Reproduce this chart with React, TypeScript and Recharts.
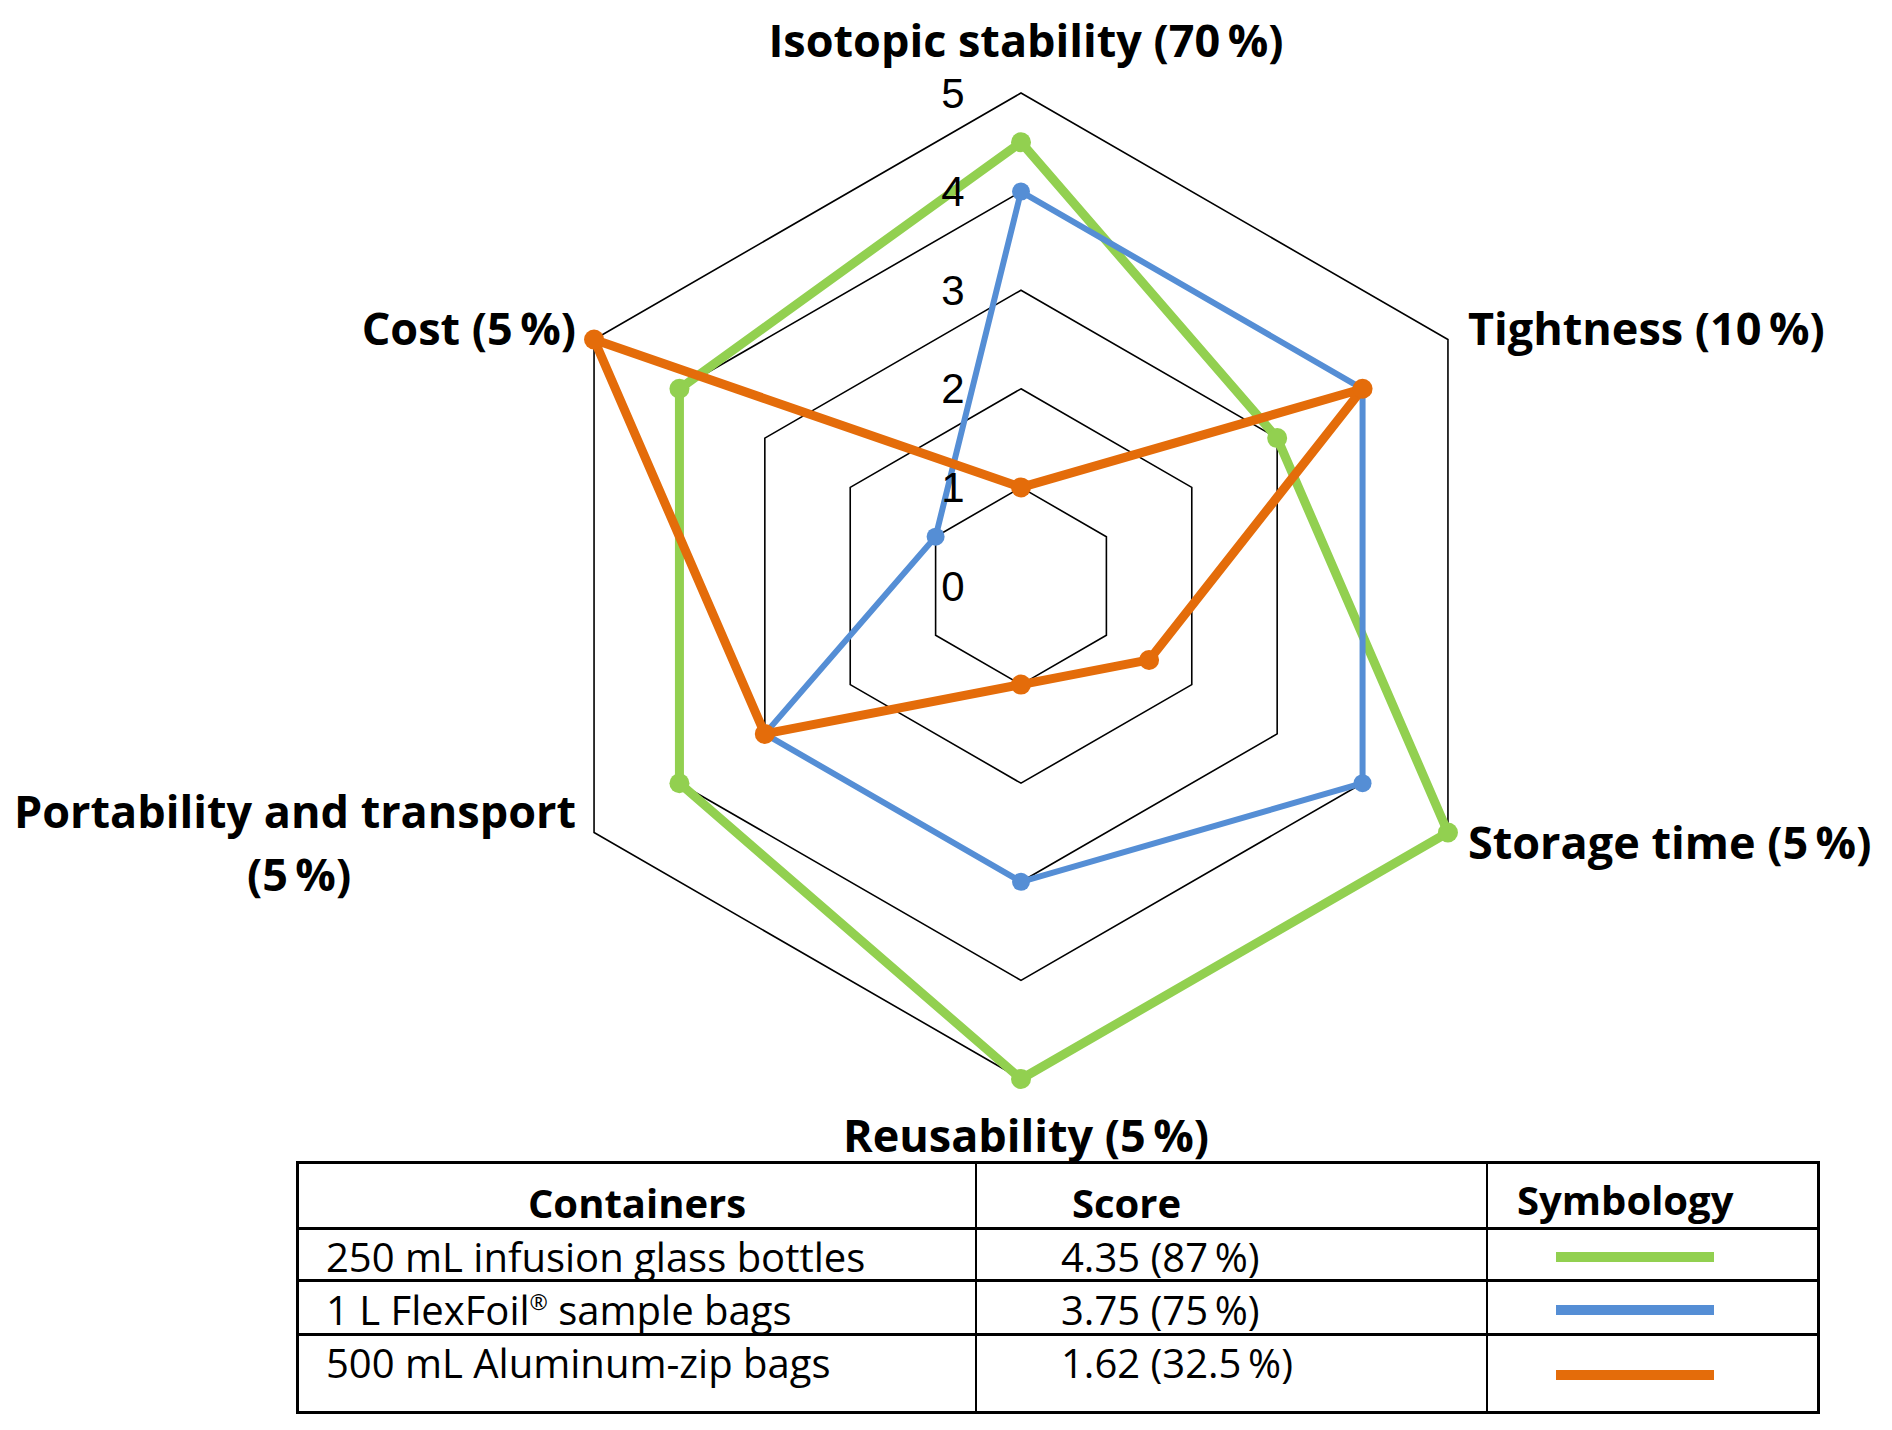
import React from 'react'
import { RadarChart, Radar, PolarGrid, PolarAngleAxis, PolarRadiusAxis } from 'recharts'

const categories = [
  'Isotopic stability (70\u2009%)',
  'Tightness (10\u2009%)',
  'Storage time (5\u2009%)',
  'Reusability (5\u2009%)',
  'Portability and transport\n(5\u2009%)',
  'Cost (5\u2009%)',
]
const glassBottles = [4.5, 3, 5, 5, 4, 4]
const flexFoilBags = [4, 4, 4, 3, 3, 1]
const aluminumZipBags = [1, 4, 1.5, 1, 3, 5]

const containers = ['250 mL infusion glass bottles', '1 L FlexFoil® sample bags', '500 mL Aluminum-zip bags']
const scores = ['4.35 (87\u2009%)', '3.75 (75\u2009%)', '1.62 (32.5\u2009%)']
const seriesKeys = ['glass', 'flexfoil', 'aluminum']
const seriesColors = ['#92D050', '#558ED5', '#E46C0A']

const data = categories.map((category, i) => ({
  category,
  glass: glassBottles[i],
  flexfoil: flexFoilBags[i],
  aluminum: aluminumZipBags[i],
}))

const CX = 1021
const CY = 586
const R = 493
const labelFont = '"Open Sans", sans-serif'

// label placement relative to each hexagon vertex
const labelPlace = [
  { dx: 5, dy: -54, anchor: 'middle' },
  { dx: 20, dy: -12, anchor: 'start' },
  { dx: 20, dy: 9, anchor: 'start' },
  { dx: 5, dy: 55, anchor: 'middle' },
  { dx: -18, dy: -22, anchor: 'end' },
  { dx: -18, dy: -12, anchor: 'end' },
]

function AngleTick(props: any) {
  const { payload } = props
  const i = categories.indexOf(payload.value)
  const a = (payload.coordinate * Math.PI) / 180
  const vx = CX + R * Math.cos(a)
  const vy = CY - R * Math.sin(a)
  const p = labelPlace[i] || { dx: 0, dy: 0, anchor: 'middle' }
  const lines = String(payload.value).split('\n')
  return (
    <g>
      {lines.map((line, k) => (
        <text
          key={k}
          x={k === 0 ? vx + p.dx : vx - 295}
          y={vy + p.dy + k * 63}
          textAnchor={k === 0 ? p.anchor : 'middle'}
          dominantBaseline="central"
          fontFamily={labelFont}
          fontWeight={700}
          fontSize={45}
          fill="#000"
        >
          {line}
        </text>
      ))}
    </g>
  )
}

function RadiusTick(props: any) {
  return (
    <text
      x={props.x - 68}
      y={props.y}
      textAnchor="middle"
      dominantBaseline="central"
      fontFamily='"Liberation Sans", Arial, sans-serif'
      fontSize={42}
      fill="#000"
    >
      {props.payload.value}
    </text>
  )
}

const colWidths = [678, 511, 335]
const rowHeights = [66, 52, 54, 75]
const rowTextCenter = [39, 27, 28, 27]
const swatchCenter = [36, 27, 28, 39]

function Cell({ w, h, children, right, bottom }: any) {
  return (
    <div
      style={{
        position: 'relative',
        width: w,
        height: h,
        boxSizing: 'border-box',
        borderRight: right ? '2px solid #000' : 'none',
        borderBottom: bottom ? '3px solid #000' : 'none',
      }}
    >
      {children}
    </div>
  )
}

function withSup(s: string) {
  const parts = s.split('®')
  if (parts.length === 1) return s
  return (
    <>
      {parts[0]}
      <sup style={{ fontSize: '0.55em', verticalAlign: '0.7em', lineHeight: 0 }}>®</sup>
      {parts[1]}
    </>
  )
}

function LegendTable() {
  const textStyle = (top: number, extra: any) => ({
    position: 'absolute' as const,
    top,
    transform: 'translateY(-50%)',
    fontFamily: labelFont,
    fontSize: 40,
    whiteSpace: 'nowrap' as const,
    lineHeight: 1,
    ...extra,
  })
  return (
    <div
      style={{
        position: 'absolute',
        left: 296,
        top: 1161,
        width: 1524,
        border: '3px solid #000',
        boxSizing: 'border-box',
        background: '#fff',
      }}
    >
      <div style={{ display: 'flex' }}>
        <Cell w={colWidths[0]} h={rowHeights[0]} right bottom>
          <div style={textStyle(rowTextCenter[0], { left: 0, width: '100%', textAlign: 'center', fontWeight: 700 })}>Containers</div>
        </Cell>
        <Cell w={colWidths[1]} h={rowHeights[0]} right bottom>
          <div style={textStyle(rowTextCenter[0], { left: 95, fontWeight: 700 })}>Score</div>
        </Cell>
        <Cell w={colWidths[2] - 6} h={rowHeights[0]} bottom>
          <div style={textStyle(rowTextCenter[0] - 3, { left: 29, fontWeight: 700 })}>Symbology</div>
        </Cell>
      </div>
      {containers.map((c, i) => (
        <div key={c} style={{ display: 'flex' }}>
          <Cell w={colWidths[0]} h={rowHeights[i + 1]} right bottom={i < containers.length - 1}>
            <div style={textStyle(rowTextCenter[i + 1], { left: 27 })}>{withSup(c)}</div>
          </Cell>
          <Cell w={colWidths[1]} h={rowHeights[i + 1]} right bottom={i < containers.length - 1}>
            <div style={textStyle(rowTextCenter[i + 1], { left: 84 })}>{scores[i]}</div>
          </Cell>
          <Cell w={colWidths[2] - 6} h={rowHeights[i + 1]} bottom={i < containers.length - 1}>
            <div
              style={{
                position: 'absolute',
                left: 68,
                top: swatchCenter[i + 1] - 5,
                width: 158,
                height: 10,
                background: seriesColors[i],
              }}
            />
          </Cell>
        </div>
      ))}
    </div>
  )
}

export default function App() {
  return (
    <div style={{ position: 'absolute', left: 0, top: 0, width: 1892, height: 1430, background: '#fff' }}>
      <RadarChart
        width={1892}
        height={1220}
        data={data}
        cx={CX}
        cy={CY}
        outerRadius={R}
        margin={{ top: 0, right: 0, bottom: 0, left: 0 }}
      >
        <PolarGrid gridType="polygon" radialLines={false} stroke="#000" strokeWidth={1.6} strokeOpacity={1} />
        <PolarAngleAxis dataKey="category" tick={<AngleTick />} axisLine={false} tickLine={false} />
        <PolarRadiusAxis
          angle={90}
          domain={[0, 5]}
          tickCount={6}
          type="number"
          axisLine={false}
          tickLine={false}
          tick={<RadiusTick />}
        />
        {seriesKeys.map((k, i) => (
          <Radar
            key={k}
            dataKey={k}
            stroke={seriesColors[i]}
            strokeWidth={i === 1 ? 6 : 9}
            strokeLinejoin="round"
            fill="none"
            fillOpacity={0}
            dot={{ r: i === 1 ? 9 : 10, fill: seriesColors[i], stroke: 'none', fillOpacity: 1 }}
            isAnimationActive={false}
          />
        ))}
      </RadarChart>
      <LegendTable />
    </div>
  )
}
